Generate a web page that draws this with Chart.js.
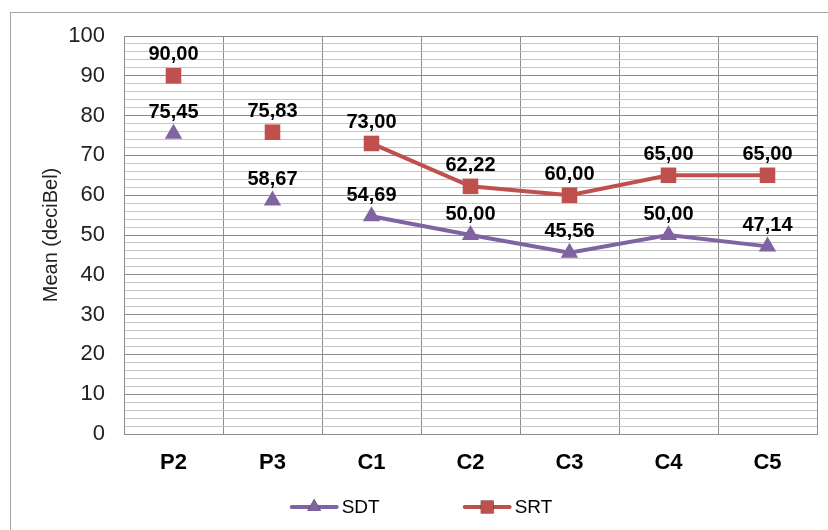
<!DOCTYPE html>
<html>
<head>
<meta charset="utf-8">
<script src="https://cdn.jsdelivr.net/npm/chart.js@4/dist/chart.umd.min.js"></script>
<style>
    html, body { margin: 0; padding: 0; background: #fff; }
    #wrap { width: 828px; height: 530px; }
</style>
</head>
<body>
<div id="wrap"><canvas id="chart" width="828" height="530"></canvas></div>
<script>
// ── Dados ────────────────────────────────────────────────────────────────────

const CATEGORIES = ['P2', 'P3', 'C1', 'C2', 'C3', 'C4', 'C5'];
const SDT_VALUES = [75.45, 58.67, 54.69, 50.00, 45.56, 50.00, 47.14];
const SRT_VALUES = [90.00, 75.83, 73.00, 62.22, 60.00, 65.00, 65.00];
const Y_MIN = 0;
const Y_MAX = 100;
const Y_STEP = 2;        // linhas secundárias
const Y_LABEL_STEP = 10; // rótulos / linhas principais

const PURPLE = '#8064a2';
const RED = '#c0504d';
const FONT = "'Liberation Sans', Arial, sans-serif";

// P2 e P3 ficam soltos, a linha só começa em C1
const FIRST_LINKED = 2;

const fmt = (v) => v.toFixed(2).replace('.', ',');

// ── Plugins ──────────────────────────────────────────────────────────────────

// moldura cinza em volta do gráfico
const framePlugin = {
    id: 'frame',
    beforeDraw(chart) {
        const ctx = chart.ctx;
        ctx.save();
        ctx.strokeStyle = '#a6a6a6';
        ctx.lineWidth = 1;
        ctx.strokeRect(10.5, 12.5, chart.width + 20, chart.height + 20);
        ctx.restore();
    },
};

// rótulos de valor acima de cada ponto
const valueLabels = {
    id: 'valueLabels',
    afterDatasetsDraw(chart) {
        const ctx = chart.ctx;
        ctx.save();
        ctx.font = `bold 20px ${FONT}`;
        ctx.fillStyle = '#000';
        ctx.textAlign = 'center';
        ctx.textBaseline = 'middle';
        chart.data.datasets.forEach((ds, i) => {
            chart.getDatasetMeta(i).data.forEach((pt, j) => {
                ctx.fillText(fmt(ds.data[j]), pt.x, pt.y - 21);
            });
        });
        ctx.restore();
    },
};

// legenda no estilo Excel: linha com marcador no meio
const lineLegend = {
    id: 'lineLegend',
    afterDraw(chart) {
        const ctx = chart.ctx;
        const lineLen = 45;
        const gap = 5;
        const itemGap = 85;
        const y = 507;
        ctx.save();
        ctx.font = `19px ${FONT}`;
        const items = chart.data.datasets.map(ds => ({
            ds,
            w: lineLen + gap + ctx.measureText(ds.label).width,
        }));
        const total = items.reduce((s, it) => s + it.w, 0) + itemGap * (items.length - 1);
        let x = chart.width / 2 + 8 - total / 2;
        items.forEach(({ ds, w }) => {
            ctx.strokeStyle = ds.borderColor;
            ctx.lineWidth = 4;
            ctx.lineCap = 'round';
            ctx.beginPath();
            ctx.moveTo(x, y);
            ctx.lineTo(x + lineLen, y);
            ctx.stroke();
            Chart.helpers.drawPoint(ctx, {
                pointStyle: ds.pointStyle,
                radius: ds.pointStyle === 'triangle' ? 8 : 9,
                borderWidth: 0,
            }, x + lineLen / 2, y);
            ctx.fillStyle = ds.borderColor;
            ctx.fill();
            ctx.fillStyle = '#000';
            ctx.textAlign = 'left';
            ctx.textBaseline = 'middle';
            ctx.fillText(ds.label, x + lineLen + gap, y + 1);
            x += w + itemGap;
        });
        ctx.restore();
    },
};

// ── Gráfico ──────────────────────────────────────────────────────────────────

function makeDataset(label, values, color, style, radius) {
    return {
        label,
        data: values,
        borderColor: color,
        backgroundColor: color,
        borderWidth: 4,
        pointStyle: style,
        pointRadius: radius,
        pointHoverRadius: radius,
        pointBorderWidth: 0,
        tension: 0,
        segment: {
            borderColor: (c) => (c.p0DataIndex < FIRST_LINKED ? 'transparent' : undefined),
        },
    };
}

new Chart(document.getElementById('chart'), {
    type: 'line',
    data: {
        labels: CATEGORIES,
        datasets: [
            makeDataset('SDT', SDT_VALUES, PURPLE, 'triangle', 10),
            makeDataset('SRT', SRT_VALUES, RED, 'rect', 11),
        ],
    },
    options: {
        responsive: false,
        animation: false,
        events: [],
        layout: { padding: { top: 36, right: 10, left: 0, bottom: 0 } },
        plugins: {
            legend: { display: false },
            tooltip: { enabled: false },
        },
        scales: {
            x: {
                offset: true,
                grid: { offset: true, color: '#8c8c8c', lineWidth: 1, drawTicks: false },
                border: { color: '#8c8c8c' },
                ticks: { color: '#000', font: { family: FONT, size: 22, weight: 'bold' }, padding: 16 },
                afterFit(scale) { scale.height = 96; },
            },
            y: {
                min: Y_MIN,
                max: Y_MAX,
                grid: {
                    drawTicks: false,
                    color: (c) => (c.tick && c.tick.value % Y_LABEL_STEP === 0 ? '#8c8c8c' : '#c4c4c4'),
                },
                border: { color: '#8c8c8c' },
                ticks: {
                    stepSize: Y_STEP,
                    autoSkip: false,
                    color: '#222',
                    padding: 19,
                    font: { family: FONT, size: 22 },
                    callback: (v) => (v % Y_LABEL_STEP === 0 ? v : ''),
                },
                title: {
                    display: true,
                    text: 'Mean (deciBel)',
                    color: '#222',
                    font: { family: FONT, size: 20 },
                    padding: { top: 39, bottom: 0 },
                },
                afterFit(scale) { scale.width = 124; },
            },
        },
    },
    plugins: [framePlugin, valueLabels, lineLegend],
});
</script>
</body>
</html>
